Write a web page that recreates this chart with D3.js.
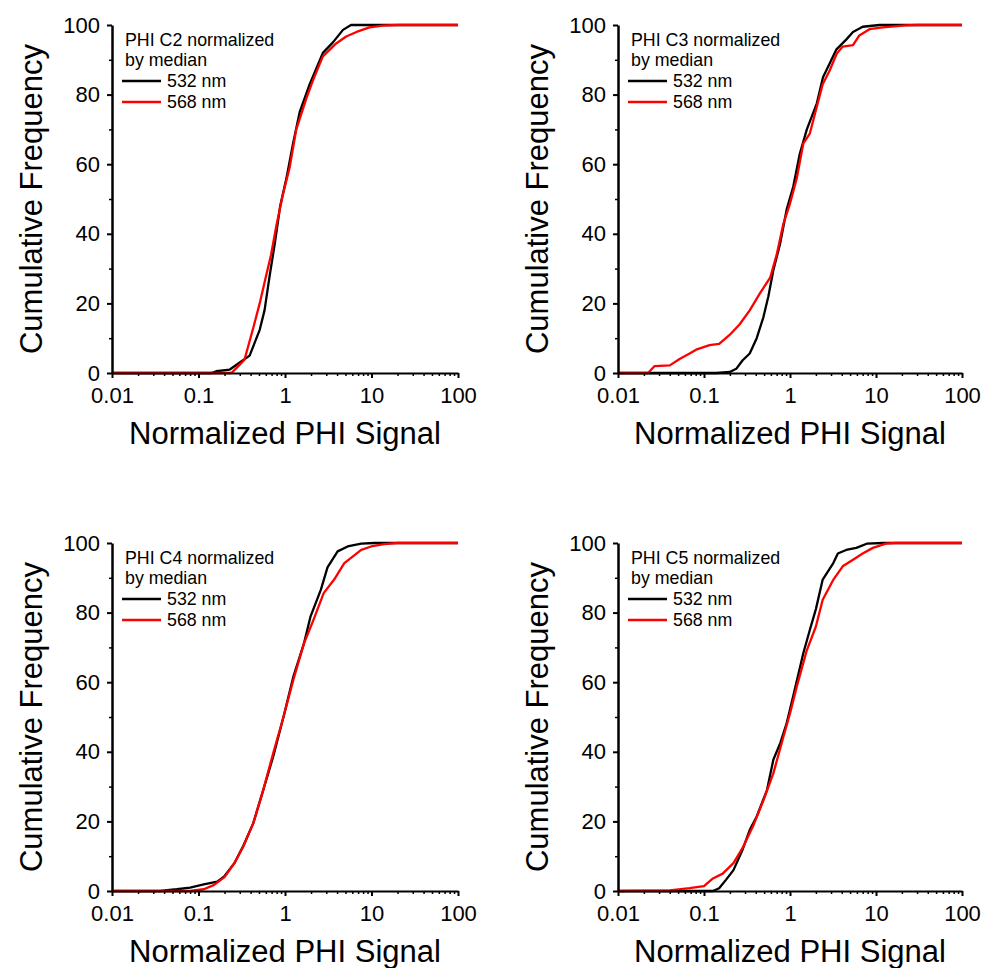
<!DOCTYPE html>
<html>
<head>
<meta charset="utf-8">
<script src="https://cdn.jsdelivr.net/npm/d3@7"></script>
<style>
  body { margin: 0; background: #fff; }
  svg { font-family: Arial, "Liberation Sans", sans-serif; }
  .axis path, .axis line { stroke: #000; }
  .axis text { font-size: 22px; fill: #000; }
</style>
</head>
<body>
<svg id="plot" width="987" height="968"></svg>
<script>
// cumulative frequency curves, [normalized signal, percent]
var c2_532 = [[0.01,0],[0.14,0],[0.16,0.5],[0.23,1],[0.30,3],[0.39,5],[0.51,12.4],[0.58,18],[0.665,28],[0.76,37],[0.88,48],[1.04,56],[1.24,66],[1.48,75],[1.93,83],[2.74,92],[3.58,95],[4.68,98.6],[5.8,100],[100,100]];
var c2_568 = [[0.01,0],[0.24,0],[0.274,1.4],[0.34,3.8],[0.43,13],[0.51,20],[0.58,26],[0.69,34],[0.79,42],[0.94,51],[1.13,59],[1.35,70],[1.77,79],[2.1,84],[2.74,91],[3.9,94.7],[5.1,96.7],[6.7,98],[9.5,99.3],[13.4,99.8],[20,100],[100,100]];

var c3_532 = [[0.01,0],[0.139,0],[0.20,0.3],[0.237,1.2],[0.28,3.6],[0.34,5.6],[0.41,10],[0.49,16],[0.56,22],[0.64,29.5],[0.765,37],[0.915,47],[1.09,53.5],[1.3,63],[1.57,70],[2.05,77.5],[2.42,85],[2.9,89],[3.47,93],[4.5,95.8],[5.4,98],[7.0,99.5],[11,100],[100,100]];
var c3_568 = [[0.01,0],[0.0223,0],[0.0267,2],[0.04,2.2],[0.052,4],[0.068,5.6],[0.081,6.7],[0.116,8],[0.15,8.4],[0.20,11],[0.26,14],[0.34,18],[0.45,23],[0.59,27.5],[0.70,34],[0.84,43],[1.0,48.7],[1.2,56],[1.43,66],[1.7,68.8],[2.0,75.5],[2.4,83],[2.9,87],[3.5,91.8],[4.1,93.8],[5.4,94.2],[6.4,97],[8.4,98.8],[12,99.3],[22,99.9],[30,100],[100,100]];

var c4_532 = [[0.01,0],[0.036,0],[0.056,0.5],[0.08,1],[0.115,1.9],[0.165,2.7],[0.20,4.3],[0.26,8],[0.33,13],[0.43,19.5],[0.56,29],[0.73,38.6],[0.96,50],[1.25,61.6],[1.65,71],[1.98,79],[2.6,86.6],[3.1,93],[4.06,97.6],[5.3,99],[7.6,99.8],[10.8,100],[100,100]];
var c4_568 = [[0.01,0],[0.08,0],[0.115,0.5],[0.15,1.7],[0.20,4],[0.26,8],[0.33,12.8],[0.43,19.5],[0.56,29],[0.73,39.6],[0.96,50],[1.25,60.7],[1.65,71],[2.14,78],[2.8,85.6],[3.7,89.5],[4.85,94.2],[5.8,95.7],[7.6,98],[9.9,99],[14,99.7],[20,100],[100,100]];

var c5_532 = [[0.01,0],[0.127,0],[0.15,0.8],[0.18,3.2],[0.22,6],[0.28,11.8],[0.34,17.5],[0.41,21.4],[0.54,29],[0.64,37.7],[0.77,42.5],[0.91,48],[1.09,56],[1.43,68.4],[1.7,75],[2.0,81],[2.4,89.5],[3.2,94.3],[3.6,97],[4.5,98],[5.9,98.6],[7.8,99.8],[12,100],[100,100]];
var c5_568 = [[0.01,0],[0.04,0.2],[0.068,0.8],[0.10,1.4],[0.127,3.6],[0.165,5],[0.22,8],[0.28,12.3],[0.37,18.5],[0.49,26],[0.64,33.8],[0.84,44.4],[1.0,51],[1.2,58.8],[1.56,69],[2.0,76],[2.4,83.7],[3.2,89.5],[4.1,93.3],[5.4,95.2],[7.0,97],[9.2,98.6],[13,99.8],[17,100],[100,100]];

var panelNames = ["PHI C2", "PHI C3", "PHI C4", "PHI C5"];
var seriesNames = ["532 nm", "568 nm"];
var seriesColors = ["#000000", "#ff0000"];
var xTickValues = [0.01, 0.1, 1, 10, 100];
var xTickLabels = ["0.01", "0.1", "1", "10", "100"];
var yTickValues = [0, 20, 40, 60, 80, 100];
var yMinorValues = [10, 30, 50, 70, 90];

var panelData = [
  [c2_532, c2_568],
  [c3_532, c3_568],
  [c4_532, c4_568],
  [c5_532, c5_568]
];

// plot frames: left, right, top, bottom
var frames = [
  {l: 112, r: 458, t: 25, b: 373},
  {l: 618, r: 962, t: 25, b: 373},
  {l: 112, r: 458, t: 543, b: 891},
  {l: 618, r: 962, t: 543, b: 891}
];

var xMinor = [];
[0.01, 0.1, 1, 10].forEach(function(d) {
  for (var k = 2; k <= 9; k++) xMinor.push(d * k);
});

var svg = d3.select("#plot");

panelData.forEach(function(series, p) {
  var f = frames[p];
  var x = d3.scaleLog().domain([0.01, 100]).range([f.l, f.r]);
  var y = d3.scaleLinear().domain([0, 100]).range([f.b, f.t]);
  var g = svg.append("g");

  var line = d3.line()
    .x(function(d) { return x(d[0]); })
    .y(function(d) { return y(d[1]); });

  series.forEach(function(s, i) {
    g.append("path")
      .datum(s)
      .attr("fill", "none")
      .attr("stroke", seriesColors[i])
      .attr("stroke-width", 2.3)
      .attr("stroke-linejoin", "round")
      .attr("d", line);
  });

  // minor ticks first, then the major axes on top
  g.append("g")
    .attr("class", "axis")
    .attr("transform", "translate(0," + f.b + ")")
    .call(d3.axisBottom(x).tickValues(xMinor).tickSize(3).tickFormat(""))
    .call(function(a) { a.select(".domain").remove(); })
    .selectAll("line").attr("stroke-width", 1.5);

  g.append("g")
    .attr("class", "axis")
    .attr("transform", "translate(" + f.l + ",0)")
    .call(d3.axisLeft(y).tickValues(yMinorValues).tickSize(3).tickFormat(""))
    .call(function(a) { a.select(".domain").remove(); })
    .selectAll("line").attr("stroke-width", 1.5);

  var xa = g.append("g")
    .attr("class", "axis")
    .attr("transform", "translate(0," + f.b + ")")
    .call(d3.axisBottom(x).tickValues(xTickValues).tickSizeInner(5).tickSizeOuter(0).tickPadding(9)
      .tickFormat(function(d, i) { return xTickLabels[i]; }));
  xa.select(".domain").attr("stroke-width", 2);
  xa.selectAll(".tick line").attr("stroke-width", 2);

  var ya = g.append("g")
    .attr("class", "axis")
    .attr("transform", "translate(" + f.l + ",0)")
    .call(d3.axisLeft(y).tickValues(yTickValues).tickSizeInner(5).tickSizeOuter(0).tickPadding(7));
  ya.select(".domain").attr("stroke-width", 2.5);
  ya.selectAll(".tick line").attr("stroke-width", 2);

  // axis titles
  g.append("text")
    .attr("x", (f.l + f.r) / 2)
    .attr("y", f.b + 71)
    .attr("text-anchor", "middle")
    .attr("font-size", 31)
    .text("Normalized PHI Signal");

  g.append("text")
    .attr("transform", "translate(" + (f.l - 70) + "," + ((f.t + f.b) / 2) + ") rotate(-90)")
    .attr("text-anchor", "middle")
    .attr("font-size", 31)
    .text("Cumulative Frequency");

  // legend
  var lg = g.append("g").attr("transform", "translate(" + f.l + "," + f.t + ")");
  lg.append("text").attr("x", 13).attr("y", 21).attr("font-size", 17.8)
    .text(panelNames[p] + " normalized");
  lg.append("text").attr("x", 13).attr("y", 41).attr("font-size", 17.8)
    .text("by median");
  seriesNames.forEach(function(name, i) {
    var ly = 56 + i * 21;
    lg.append("line")
      .attr("x1", 10).attr("x2", 49)
      .attr("y1", ly).attr("y2", ly)
      .attr("stroke", seriesColors[i])
      .attr("stroke-width", 2.3);
    lg.append("text").attr("x", 55).attr("y", ly + 6).attr("font-size", 17.8)
      .text(name);
  });
});
</script>
</body>
</html>
